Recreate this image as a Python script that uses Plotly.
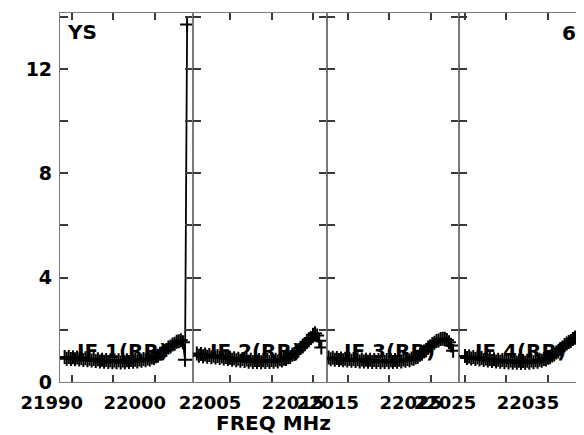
import plotly.graph_objects as go
from plotly.subplots import make_subplots

# channel layout of each IF (start frequency, channel width in MHz)
if_start = [21989.15, 22001.0, 22012.7, 22025.0]
chan_width = 0.25
if_names = ['IF 1(RR)', 'IF 2(RR)', 'IF 3(RR)', 'IF 4(RR)']

# amplitudes, one value per channel
if1_amp = [0.96, 0.89, 0.96, 0.88, 0.95, 0.87, 0.94, 0.86, 0.92, 0.84,
           0.91, 0.83, 0.89, 0.82, 0.88, 0.80, 0.87, 0.79, 0.85, 0.78,
           0.84, 0.77, 0.83, 0.76, 0.82, 0.76, 0.83, 0.75, 0.82, 0.76,
           0.83, 0.77, 0.84, 0.78, 0.85, 0.79, 0.86, 0.81, 0.88, 0.83,
           0.90, 0.86, 0.94, 0.92, 0.99, 1.01, 1.08, 1.11, 1.19, 1.23,
           1.32, 1.36, 1.44, 1.47, 1.54, 1.56, 1.60, 1.52, 0.85, 13.7]
if2_amp = [1.09, 1.01, 1.07, 0.99, 1.05, 0.97, 1.03, 0.95, 1.01, 0.94,
           1.00, 0.92, 0.98, 0.90, 0.96, 0.88, 0.93, 0.85, 0.91, 0.83,
           0.89, 0.81, 0.88, 0.80, 0.86, 0.78, 0.85, 0.77, 0.84, 0.77,
           0.84, 0.76, 0.83, 0.77, 0.84, 0.77, 0.84, 0.78, 0.85, 0.79,
           0.87, 0.82, 0.89, 0.88, 0.95, 0.96, 1.04, 1.07, 1.16, 1.21,
           1.31, 1.36, 1.46, 1.52, 1.63, 1.69, 1.81, 1.87, 1.78, 1.58,
           1.32]
if3_amp = [0.94, 0.87, 0.93, 0.85, 0.92, 0.84, 0.90, 0.83, 0.89, 0.82,
           0.88, 0.81, 0.88, 0.80, 0.87, 0.79, 0.86, 0.79, 0.85, 0.78,
           0.85, 0.77, 0.84, 0.77, 0.84, 0.76, 0.83, 0.77, 0.84, 0.76,
           0.83, 0.77, 0.84, 0.78, 0.85, 0.79, 0.86, 0.81, 0.88, 0.83,
           0.90, 0.89, 0.95, 0.97, 1.04, 1.08, 1.17, 1.22, 1.32, 1.37,
           1.46, 1.50, 1.57, 1.59, 1.65, 1.66, 1.66, 1.61, 1.52, 1.40,
           1.20]
if4_amp = [1.00, 0.92, 0.98, 0.90, 0.96, 0.88, 0.94, 0.86, 0.92, 0.84,
           0.90, 0.82, 0.88, 0.80, 0.87, 0.79, 0.85, 0.78, 0.84, 0.76,
           0.83, 0.75, 0.82, 0.74, 0.81, 0.74, 0.81, 0.73, 0.80, 0.74,
           0.81, 0.74, 0.82, 0.76, 0.83, 0.78, 0.85, 0.81, 0.88, 0.86,
           0.93, 0.95, 1.02, 1.05, 1.13, 1.17, 1.26, 1.32, 1.42, 1.48,
           1.53, 1.57, 1.65, 1.70, 1.79, 1.84, 1.93, 1.98, 2.06, 2.10,
           2.16]
amps = [if1_amp, if2_amp, if3_amp, if4_amp]

# axis ranges and ticks of each panel
x_ranges = [[21988.59, 22004.61], [22000.54, 22016.65],
            [22012.47, 22028.41], [22024.28, 22039.34]]
x_tickvals = [[21990, 21995, 22000], [22005, 22010, 22015],
              [22015, 22020, 22025], [22025, 22030, 22035]]
x_ticktext = [['21990', '', '22000'], ['22005', '', '22015'],
              ['22015', '', '22025'], ['22025', '', '22035']]
y_tickvals = [0, 2, 4, 6, 8, 10, 12, 14]
y_ticktext = ['0', '', '4', '', '8', '', '12', '']

FONT = 'DejaVu Sans'
AXIS_GREY = '#7a7a7a'
TICK_GREY = '#3a3a3a'

fig = make_subplots(rows=1, cols=4, shared_yaxes=True, horizontal_spacing=0,
                    column_widths=[133, 133.7, 132.3, 125])

for k in range(4):
    freqs = [if_start[k] + chan_width * i for i in range(len(amps[k]))]
    fig.add_trace(go.Scatter(
        x=freqs, y=amps[k], mode='lines+markers',
        line=dict(color='black', width=1.8),
        marker=dict(symbol='cross-thin', size=10, color='black',
                    line=dict(color='black', width=2)),
        showlegend=False), row=1, col=k + 1)

    fig.update_xaxes(range=x_ranges[k], tickmode='array', tickvals=x_tickvals[k],
                     ticktext=x_ticktext[k], ticks='inside', ticklen=7, tickwidth=1.5,
                     tickcolor=TICK_GREY, showline=True, linecolor=AXIS_GREY, linewidth=1.2,
                     mirror='ticks', showgrid=False, zeroline=False,
                     ticklabelshift=-20, ticklabelstandoff=4,
                     tickfont=dict(family=FONT, size=18, color='black', weight='bold'),
                     row=1, col=k + 1)

    fig.update_yaxes(range=[0, 14.14], tickmode='array', tickvals=y_tickvals,
                     ticktext=y_ticktext, ticks='inside', ticklen=8, tickwidth=1.5,
                     tickcolor=TICK_GREY, showline=True, linecolor=AXIS_GREY, linewidth=1.2,
                     mirror='ticks' if k < 3 else False, showgrid=False, zeroline=False,
                     showticklabels=(k == 0), ticklabelstandoff=3,
                     tickfont=dict(family=FONT, size=19, color='black', weight='bold'),
                     row=1, col=k + 1)

# IF labels inside each panel
label_x = [0.0286, 0.283, 0.5376, 0.789]
for k in range(4):
    fig.add_annotation(x=label_x[k], y=0.085, xref='paper', yref='paper',
                       text=if_names[k], showarrow=False, xanchor='left', yanchor='middle',
                       font=dict(family=FONT, size=20, color='black', weight='bold'))

fig.add_annotation(x=0.0414, y=0.949, xref='paper', yref='paper', text='YS',
                   showarrow=False, xanchor='center', yanchor='middle',
                   font=dict(family=FONT, size=20, color='black', weight='bold'))
fig.add_annotation(x=0.971, y=0.947, xref='paper', yref='paper', text='6',
                   showarrow=False, xanchor='center', yanchor='middle',
                   font=dict(family=FONT, size=20, color='black', weight='bold'))
fig.add_annotation(x=0.408, y=-0.111, xref='paper', yref='paper', text='FREQ MHz',
                   showarrow=False, xanchor='center', yanchor='middle',
                   font=dict(family=FONT, size=20, color='black', weight='bold'))

# the page body adds an 8 px margin, so the figure is sized to end at the window edge
fig.update_layout(width=576, height=427, margin=dict(l=52, r=0, t=5, b=53),
                  plot_bgcolor='white', paper_bgcolor='white')

fig.write_html('out.html')
